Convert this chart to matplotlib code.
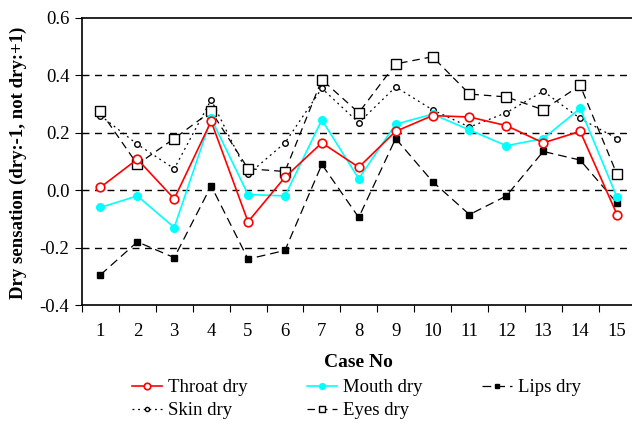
import matplotlib
matplotlib.use("Agg")
import matplotlib.pyplot as plt

cases = list(range(1, 16))
case_labels = [str(c) for c in cases]
throat = [0.01, 0.108, -0.03, 0.24, -0.11, 0.045, 0.165, 0.08, 0.205, 0.26, 0.255, 0.225, 0.165, 0.205, -0.085]
mouth = [-0.06, -0.02, -0.13, 0.25, -0.015, -0.02, 0.245, 0.04, 0.23, 0.265, 0.21, 0.155, 0.18, 0.285, -0.025]
lips = [-0.295, -0.18, -0.235, 0.015, -0.24, -0.21, 0.09, -0.095, 0.18, 0.03, -0.085, -0.02, 0.135, 0.105, -0.045]
skin = [0.26, 0.16, 0.075, 0.315, 0.055, 0.165, 0.355, 0.235, 0.36, 0.28, 0.22, 0.27, 0.345, 0.25, 0.18]
eyes = [0.275, 0.09, 0.18, 0.275, 0.075, 0.065, 0.385, 0.27, 0.44, 0.465, 0.335, 0.325, 0.28, 0.365, 0.055]
yticks = [-0.4, -0.2, 0.0, 0.2, 0.4, 0.6]
grid_vals = [-0.2, 0.0, 0.2, 0.4]

plt.rcParams['font.family'] = ['Liberation Serif', 'DejaVu Serif']
plt.rcParams['font.size'] = 13.5

fig = plt.figure(figsize=(6.32, 4.25), dpi=100)
ax = fig.add_axes([82/632, (425-305)/425, (635.5-82)/632, 287/425])

for g in grid_vals:
    ax.axhline(g, color='black', lw=1, ls=(0, (5, 4)), zorder=1)

h_throat, = ax.plot(cases, throat, color='red', lw=1.2, marker='o', ms=6.2, mfc='white', mec='red', mew=1.2, label='Throat dry', zorder=5)
h_mouth, = ax.plot(cases, mouth, color='cyan', lw=1.2, marker='o', ms=5.5, mfc='cyan', mec='cyan', label='Mouth dry', zorder=4)
h_lips, = ax.plot(cases, lips, color='black', lw=0.9, ls=(0, (7, 4)), marker='s', ms=4.5, mfc='black', mec='black', label='Lips dry', zorder=3)
h_skin, = ax.plot(cases, skin, color='black', lw=0.9, ls=(0, (1.5, 3)), marker='o', ms=4, mfc='white', mec='black', mew=1, label='Skin dry', zorder=3)
h_eyes, = ax.plot(cases, eyes, color='black', lw=0.9, ls=(0, (6, 4)), marker='s', ms=6.5, mfc='white', mec='black', mew=1, label='Eyes dry', zorder=3)

ax.set_xlim(0.5, 15.5)
ax.set_ylim(-0.4, 0.6)
ax.set_xticks([c + 0.5 for c in cases[:-1]] + [0.5])
ax.set_xticklabels([])
ax.set_xticks(cases, minor=True)
ax.set_xticklabels(case_labels, minor=True)
ax.tick_params(axis='x', which='minor', length=0, pad=13)
ax.tick_params(axis='x', which='major', direction='out', length=5)
ax.set_yticks(yticks)
ax.set_yticklabels([f"{v:.1f}" for v in yticks])
ax.tick_params(axis='y', direction='out', length=5, pad=4)
ax.spines['right'].set_visible(False)
for s in ax.spines.values():
    s.set_linewidth(1.2)

ax.set_xlabel('Case No', fontweight='bold', fontsize=14)
ax.xaxis.set_label_coords(0.5, -0.17)
ax.set_ylabel('Dry sensation (dry:-1, not dry:+1)', fontweight='bold', fontsize=13.5)
ax.yaxis.set_label_coords(-0.099, 0.495)

handles = [h_throat, h_skin, h_mouth, h_eyes, h_lips]
fig.legend(handles, [h.get_label() for h in handles], ncol=3, loc='upper left',
           bbox_to_anchor=(132/632, 1 - 379/425), frameon=False, fontsize=13.5,
           handlelength=1.6, columnspacing=3.2, labelspacing=0.33, handletextpad=0.3,
           borderaxespad=0, borderpad=0, markerscale=0.75)

fig.savefig('out.png', dpi=100)
